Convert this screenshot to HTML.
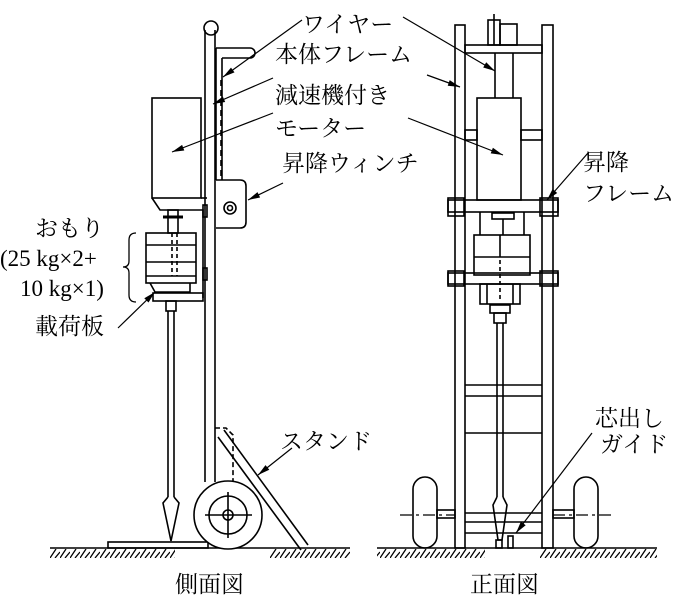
<!DOCTYPE html>
<html><head><meta charset="utf-8"><style>
html,body{margin:0;padding:0;background:#fff;}
svg{display:block;}
text{font-family:"Liberation Serif","Noto Serif CJK SC","Noto Sans CJK JP",serif;font-size:23px;fill:#000;}
</style></head><body>
<svg width="698" height="600" viewBox="0 0 698 600" xmlns="http://www.w3.org/2000/svg">
<defs>
<pattern id="hatch" width="10" height="9" patternUnits="userSpaceOnUse">
<path d="M0,9 L6,0 M5,9 L10,3" stroke="#000" stroke-width="1.3"/></pattern>
</defs>
<g fill="none" stroke="#000" stroke-width="1.6">
<!-- ===== SIDE VIEW ===== -->
<line x1="50" y1="548" x2="350" y2="548"/>
<rect x="50" y="549" width="125" height="9" fill="url(#hatch)" stroke="none"/>
<rect x="270" y="549" width="80" height="9" fill="url(#hatch)" stroke="none"/>
<rect x="108" y="542" width="100" height="6"/>
<circle cx="211" cy="28" r="7"/>
<line x1="205" y1="30" x2="205" y2="482"/>
<line x1="215" y1="30" x2="215" y2="482"/>
<line x1="216" y1="48" x2="216" y2="180"/>
<line x1="222" y1="58" x2="222" y2="180"/>
<path d="M216,48 L250,48 A5,5 0 0 1 250,58 L222,58"/>
<line x1="221" y1="80" x2="221" y2="180" stroke-dasharray="6,4"/>
<rect x="152" y="98" width="49" height="100"/>
<path d="M152,198 L160,210 L203,210 L203,298"/>
<line x1="201" y1="198" x2="207" y2="198"/>
<rect x="203" y="205" width="4" height="12"/>
<rect x="203" y="268" width="4" height="12"/>
<path d="M216,180 L240,180 Q246,180 246,186 L246,222 Q246,228 240,228 L216,228"/>
<circle cx="230" cy="208" r="6"/><circle cx="230" cy="208" r="2.5"/>
<line x1="163" y1="217" x2="183" y2="217" stroke-width="3"/>
<rect x="168" y="210" width="10" height="23"/>
<rect x="146" y="233" width="50" height="50"/>
<line x1="146" y1="245" x2="196" y2="245"/>
<line x1="146" y1="262" x2="196" y2="262"/>
<line x1="146" y1="276" x2="196" y2="276"/>
<line x1="172" y1="233" x2="172" y2="276" stroke-dasharray="4,3"/>
<line x1="177" y1="233" x2="177" y2="276" stroke-dasharray="4,3"/>
<path d="M150,283 L155,292 L190,292 L190,283"/>
<rect x="153" y="293" width="50" height="8"/>
<rect x="166" y="301" width="10" height="10"/>
<line x1="168" y1="311" x2="168" y2="497"/>
<line x1="174" y1="311" x2="174" y2="497"/>
<path d="M168,497 L163,503 L171,541 L179,503 L174,497"/>
<line x1="218" y1="437" x2="301" y2="550"/>
<line x1="224" y1="430" x2="308" y2="545"/>
<path d="M215,428 L226,428 L233,435 L233,482" stroke-dasharray="5,3"/>
<circle cx="228" cy="515" r="34" fill="#fff"/>
<circle cx="228" cy="515" r="19"/>
<circle cx="228" cy="515" r="5"/>
<line x1="205" y1="515" x2="252" y2="515"/>
<line x1="228" y1="492" x2="228" y2="538"/>
<g stroke-width="1.2">
<line x1="302" y1="20" x2="223" y2="77"/>
<line x1="273" y1="78" x2="213" y2="104"/>
<line x1="273" y1="113" x2="172" y2="152"/>
<line x1="283" y1="183" x2="248" y2="200"/>
<line x1="118" y1="328" x2="155" y2="292"/>
<line x1="292" y1="448" x2="258" y2="475"/>
</g>
<path d="M136,233 Q129,233 129,240 L129,261 Q129,267 123,267 Q129,267 129,273 L129,295 Q129,302 136,302" stroke-width="1.3"/>

<!-- ===== FRONT VIEW ===== -->
<line x1="377" y1="548" x2="657" y2="548"/>
<rect x="377" y="549" width="108" height="9" fill="url(#hatch)" stroke="none"/>
<rect x="540" y="549" width="117" height="9" fill="url(#hatch)" stroke="none"/>
<rect x="455" y="25" width="10" height="523"/>
<rect x="542" y="25" width="11" height="523"/>
<rect x="465" y="45" width="77" height="8"/>
<rect x="488" y="20" width="12" height="25"/>
<rect x="500" y="24" width="17" height="21"/>
<line x1="494" y1="14" x2="494" y2="45"/>
<line x1="495" y1="53" x2="495" y2="98"/>
<line x1="513" y1="53" x2="513" y2="98"/>
<rect x="477" y="98" width="44" height="102"/>
<rect x="465" y="130" width="12" height="10"/>
<rect x="521" y="130" width="21" height="10"/>
<rect x="448" y="200" width="110" height="12"/>
<rect x="448" y="198" width="16" height="18"/>
<rect x="540" y="198" width="18" height="18"/>
<rect x="492" y="213" width="22" height="6"/>
<line x1="503" y1="219" x2="503" y2="235"/>
<line x1="480" y1="212" x2="480" y2="235"/>
<line x1="524" y1="212" x2="524" y2="235"/>
<rect x="474" y="235" width="56" height="40"/>
<line x1="474" y1="257" x2="530" y2="257"/>
<line x1="500" y1="235" x2="500" y2="257"/>
<line x1="500" y1="260" x2="500" y2="300" stroke-dasharray="4,3"/>
<rect x="448" y="273" width="110" height="11"/>
<rect x="448" y="271" width="16" height="15"/>
<rect x="540" y="271" width="18" height="15"/>
<rect x="480" y="284" width="40" height="20"/>
<line x1="487" y1="284" x2="487" y2="304"/><line x1="513" y1="284" x2="513" y2="304"/>
<rect x="490" y="305" width="20" height="8"/>
<rect x="494" y="313" width="12" height="10"/>
<line x1="497" y1="323" x2="497" y2="497"/>
<line x1="503" y1="323" x2="503" y2="497"/>
<path d="M497,497 L493,505 L498,540 L502,540 L507,505 L503,497"/>
<line x1="465" y1="385" x2="542" y2="385"/>
<line x1="465" y1="396" x2="542" y2="396"/>
<line x1="465" y1="433" x2="542" y2="433"/>
<line x1="465" y1="513" x2="542" y2="513"/>
<line x1="465" y1="522" x2="542" y2="522"/>
<line x1="465" y1="533" x2="542" y2="533"/>
<rect x="413" y="477" width="24" height="71" rx="12"/>
<rect x="574" y="477" width="24" height="71" rx="12"/>
<rect x="437" y="510" width="18" height="8"/>
<rect x="553" y="510" width="21" height="8"/>
<line x1="400" y1="515" x2="455" y2="515" stroke-dasharray="12,4,3,4" stroke-width="1.2"/>
<line x1="553" y1="515" x2="612" y2="515" stroke-dasharray="12,4,3,4" stroke-width="1.2"/>
<rect x="496" y="540" width="6" height="8"/>
<rect x="508" y="536" width="5" height="12"/>
<g stroke-width="1.2">
<line x1="403" y1="17" x2="495" y2="71"/>
<line x1="427" y1="75" x2="460" y2="87"/>
<line x1="408" y1="118" x2="503" y2="155"/>
<line x1="588" y1="153" x2="547" y2="200"/>
<line x1="592" y1="433" x2="516" y2="533"/>
</g>
</g>
<g fill="#000" stroke="none">
<polygon points="223,77 234.5,72.4 231.0,67.6"/>
<polygon points="213,104 225.2,102.0 222.8,96.5"/>
<polygon points="172,152 184.3,150.5 182.1,144.9"/>
<polygon points="248,200 260.1,197.5 257.5,192.1"/>
<polygon points="155,292 144.3,298.2 148.5,302.5"/>
<polygon points="258,475 269.3,469.8 265.5,465.1"/>
<polygon points="495,71 486.2,62.3 483.2,67.5"/>
<polygon points="460,87 449.7,80.1 447.7,85.7"/>
<polygon points="503,155 492.9,147.8 490.7,153.4"/>
<polygon points="547,200 557.2,193.0 552.6,189.0"/>
<polygon points="516,533 525.7,525.2 520.9,521.6"/>
</g>
<text x="302" y="32">ワイヤー</text>
<text x="275" y="62">本体フレーム</text>
<text x="275" y="103">減速機付き</text>
<text x="275" y="136">モーター</text>
<text x="282" y="171">昇降ウィンチ</text>
<text x="583" y="170">昇降</text>
<text x="583" y="201">フレーム</text>
<text x="35" y="236">おもり</text>
<text x="0" y="266">(25 kg×2+</text>
<text x="20" y="296">10 kg×1)</text>
<text x="35" y="334">載荷板</text>
<text x="280" y="449">スタンド</text>
<text x="595" y="426">芯出し</text>
<text x="600" y="452">ガイド</text>
<text x="175" y="592">側面図</text>
<text x="470" y="592">正面図</text>
</svg>
</body></html>
